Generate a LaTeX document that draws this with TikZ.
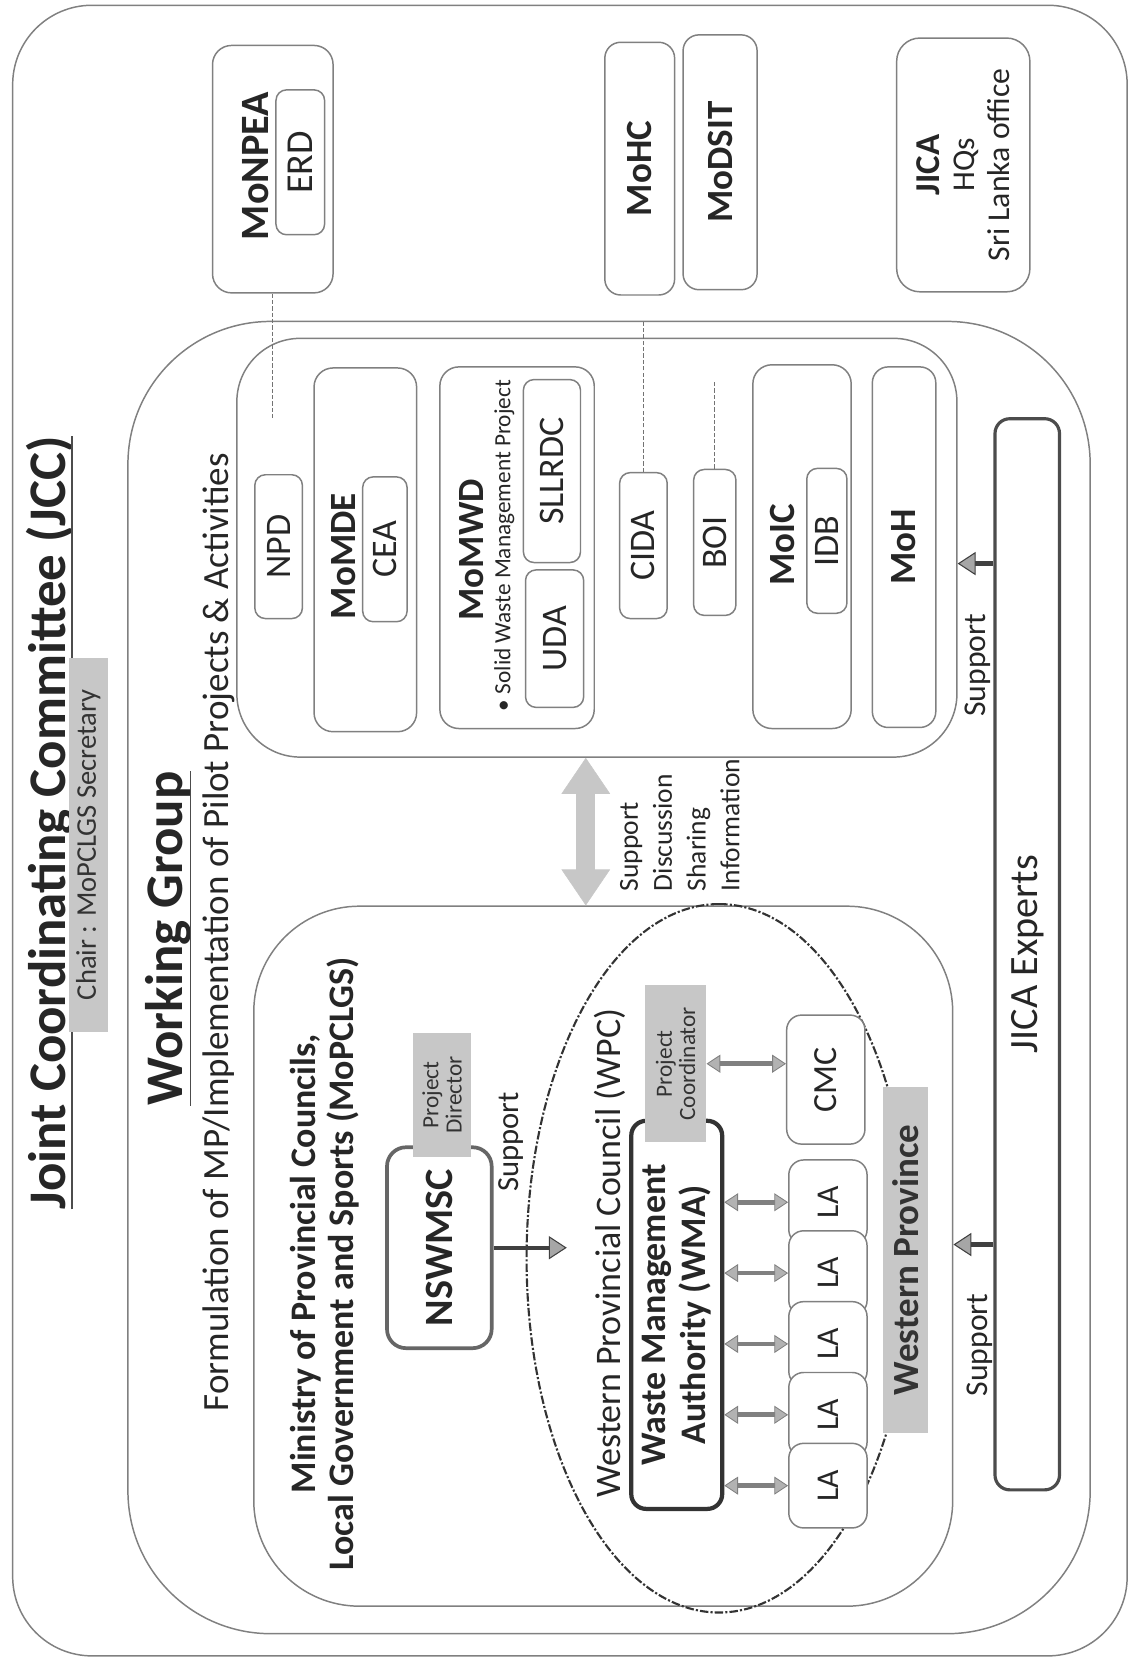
\documentclass[tikz,border=0pt]{standalone}
\usepackage{fontspec}
\setmainfont{Carlito}
\usepackage{tikz}
\usetikzlibrary{arrows.meta,calc,shapes.geometric}

\newcommand{\Corps}[2]{\fontsize{#1pt}{#2pt}\selectfont}

\begin{document}
\begin{tikzpicture}[x=1pt,y=1pt,rotate=90,transform shape]
    % Styles
    \tikzstyle{trait}=[draw=black!50,line width=1.4pt]
    \tikzstyle{boite}=[trait,fill=white,inner sep=0pt,text=black!85]
    \tikzstyle{grise}=[fill=black!22,inner sep=0pt,text=black!80,align=center]
    \tikzstyle{gras}=[font=\Corps{35}{40}\bfseries,text=black!85]
    \tikzstyle{texte}=[font=\Corps{34}{38},text=black!85]
    \tikzstyle{boitela}=[boite,rounded corners=14pt,minimum width=80pt,minimum height=74pt,texte,font=\Corps{30}{32}]
    \tikzstyle{fleche}=[->,>={Triangle[width=22pt,length=17pt,fill=black!35,line width=1pt]},draw=black!75,line width=4pt]
    \tikzstyle{doublefleche}=[<->,>={Triangle[width=17pt,length=13pt,fill=black!30,line width=0.8pt]},draw=black!50,line width=4.5pt]
    \tikzstyle{grossefleche}=[<->,>={Triangle[width=46pt,length=34pt,line width=0.5pt]},draw=black!22,line width=18pt]
    \tikzstyle{pointille}=[draw=black!55,line width=0.9pt,dash pattern=on 4pt off 2pt]
    \tikzstyle{tirets}=[draw=black!80,line width=2pt,dash pattern=on 8pt off 2pt on 2pt off 2pt]
    \useasboundingbox (0,0) rectangle (1568,1068);
    % Cadres
    \node[boite,fill=none,rounded corners=75pt,minimum width=1561pt,minimum height=1054pt] (jcc) at (782.5,529) {};
    \node[boite,fill=none,rounded corners=135pt,minimum width=1241pt,minimum height=910pt] (wg) at (643.5,492) {};
    % Titres
    \node[font=\Corps{50}{60}\bfseries,text=black!85,inner sep=0pt,anchor=base] (titre) at (790,1006) {Joint Coordinating Committee (JCC)};
    \draw[line width=1.5pt,black!70] ($(titre.base west)+(0,-6)$) -- ($(titre.base east)+(0,-6)$);
    \node[grise,font=\Corps{27}{30},minimum width=354pt,minimum height=37pt] (chair) at (769,984.5) {Chair : MoPCLGS Secretary};
    \node[font=\Corps{50}{60}\bfseries,text=black!85,inner sep=0pt,anchor=base] (wgtitre) at (680.5,895) {Working Group};
    \draw[line width=1.5pt,black!70] ($(wgtitre.base west)+(0,-7)$) -- ($(wgtitre.base east)+(0,-7)$);
    \node[texte,font=\Corps{35}{38},inner sep=0pt,anchor=base] (formulation) at (686.5,852) {Formulation of MP/Implementation of Pilot Projects \& Activities};
    % Ministeres hors groupe
    \node[boite,rounded corners=18pt,minimum width=234pt,minimum height=114pt] (monpea) at (1408,810) {};
    \node[gras,font=\Corps{38}{40}\bfseries] (monpeatxt) at (1411,826) {MoNPEA};
    \node[boite,rounded corners=10pt,minimum width=137pt,minimum height=46pt,texte,font=\Corps{36}{40}] (erd) at (1414.5,784) {ERD};
    \node[boite,rounded corners=15pt,minimum width=239pt,minimum height=66pt,gras] (mohc) at (1408.5,463) {MoHC};
    \node[boite,rounded corners=15pt,minimum width=241pt,minimum height=70pt,gras] (modsit) at (1414.5,387) {MoDSIT};
    \node[boite,rounded corners=22pt,minimum width=240pt,minimum height=126pt,texte,font=\Corps{30}{33},align=center] (jica) at (1412,157) {\textbf{\Corps{33}{33}JICA}\\HQs\\Sri Lanka office};
    % Agences
    \node[boite,rounded corners=60pt,minimum width=396pt,minimum height=681pt] (agence) at (1050,503.5) {};
    \node[boite,rounded corners=10pt,minimum width=136pt,minimum height=45pt,texte] (npd) at (1051,804.5) {NPD};
    \node[boite,rounded corners=18pt,minimum width=344pt,minimum height=97pt] (momde) at (1048,722.5) {};
    \node[gras] (momdetxt) at (1042,743) {MoMDE};
    \node[boite,rounded corners=10pt,minimum width=137pt,minimum height=42pt,texte] (cea) at (1048.5,704) {CEA};
    \node[boite,rounded corners=18pt,minimum width=342pt,minimum height=146pt] (momwd) at (1050,579) {};
    \node[gras] (momwdtxt) at (1048,622) {MoMWD};
    \node[texte,font=\Corps{22}{24}] (swmp) at (1052,591) {\textbullet\ Solid Waste Management Project};
    \node[boite,rounded corners=10pt,minimum width=130pt,minimum height=55pt,texte] (uda) at (964,543.5) {UDA};
    \node[boite,rounded corners=10pt,minimum width=173pt,minimum height=54pt,texte] (sllrdc) at (1122.5,546) {SLLRDC};
    \node[boite,rounded corners=10pt,minimum width=138pt,minimum height=45pt,texte] (cida) at (1052,459.5) {CIDA};
    \node[boite,rounded corners=10pt,minimum width=138pt,minimum height=40pt,texte] (boi) at (1055,392) {BOI};
    \node[boite,rounded corners=18pt,minimum width=344pt,minimum height=93pt] (moic) at (1051,309.5) {};
    \node[gras] (moictxt) at (1053,328) {MoIC};
    \node[boite,rounded corners=10pt,minimum width=137pt,minimum height=38pt,texte] (idb) at (1056.5,286) {IDB};
    \node[boite,rounded corners=15pt,minimum width=341pt,minimum height=60pt,gras] (moh) at (1050.5,213) {MoH};
    % MoPCLGS
    \node[boite,rounded corners=100pt,minimum width=662pt,minimum height=661pt] (mopclgs) at (380,497.5) {};
    \node[gras,font=\Corps{34}{36}\bfseries,align=center] (mopclgstxt) at (373,761) {Ministry of Provincial Councils,\\Local Government and Sports (MoPCLGS)};
    \node[ellipse,tirets,minimum width=670pt,minimum height=364pt] (wpc) at (378,388) {};
    \node[boite,line width=3.5pt,draw=black!60,rounded corners=18pt,minimum width=190pt,minimum height=99pt,gras,font=\Corps{38}{40}\bfseries] (nswmsc) at (388,652.5) {NSWMSC};
    \node[grise,font=\Corps{22}{22},minimum width=117pt,minimum height=54pt] (pdir) at (532.5,650) {Project\\Director};
    \node[texte,font=\Corps{29}{30}] (supp1) at (488,585) {Support};
    \coordinate (cible) at (388,532);
    \node[texte] (wpctxt) at (383,491) {Western Provincial Council (WPC)};
    \node[boite,line width=4pt,draw=black!80,rounded corners=14pt,minimum width=367pt,minimum height=86pt,gras,font=\Corps{34}{37}\bfseries,align=center] (wma) at (324.5,428) {Waste Management\\Authority (WMA)};
    \node[grise,font=\Corps{22}{22},minimum width=148pt,minimum height=58pt] (pc) at (562,429) {Project\\Coordinator};
    \node[boite,rounded corners=14pt,minimum width=122pt,minimum height=74pt,texte,font=\Corps{32}{34}] (cmc) at (547,287) {CMC};
    \node[boitela] (la1) at (431,285) {LA};
    \node[boitela] (la2) at (364,285) {LA};
    \node[boitela] (la3) at (297,285) {LA};
    \node[boitela] (la4) at (230,285) {LA};
    \node[boitela] (la5) at (163,285) {LA};
    \node[grise,font=\Corps{35}{36}\bfseries,minimum width=327pt,minimum height=43pt] (wprov) at (376.5,211.5) {Western Province};
    % Experts
    \node[boite,line width=3pt,draw=black!70,rounded corners=14pt,minimum width=1013pt,minimum height=61pt,texte,font=\Corps{38}{40}] (jicabar) at (665.5,96.5) {JICA Experts};
    \node[texte,font=\Corps{30}{32}] (supp2) at (939,143) {Support};
    \node[texte,font=\Corps{30}{32}] (supp3) at (296,141) {Support};
    \node[texte,font=\Corps{26}{32},align=left,anchor=west,inner sep=0pt] (echange) at (725,425) {Support\\Discussion\\Sharing\\Information};
    % Liens
    \coordinate (finA) at (1171,810);
    \coordinate (finB) at (1207,392);
    \draw[pointille] (monpea.west) -- (finA);
    \draw[pointille] (cida.east) -- (wg.east |- cida.east);
    \draw[pointille] (boi.east) -- (finB);
    % Fleches
    \draw[grossefleche] (agence.west |- 0,514) -- (mopclgs.east |- 0,514);
    \draw[fleche] (1035,0 |- jicabar.north) -- (1035,0 |- agence.south);
    \draw[fleche] (391,0 |- jicabar.north) -- (391,0 |- mopclgs.south);
    \draw[fleche] (nswmsc.south) -- (cible);
    \draw[doublefleche] (pc.south) -- (pc.south |- cmc.north);
    \draw[doublefleche] (la1.north |- wma.south) -- (la1.north);
    \draw[doublefleche] (la2.north |- wma.south) -- (la2.north);
    \draw[doublefleche] (la3.north |- wma.south) -- (la3.north);
    \draw[doublefleche] (la4.north |- wma.south) -- (la4.north);
    \draw[doublefleche] (la5.north |- wma.south) -- (la5.north);
\end{tikzpicture}
\end{document}
